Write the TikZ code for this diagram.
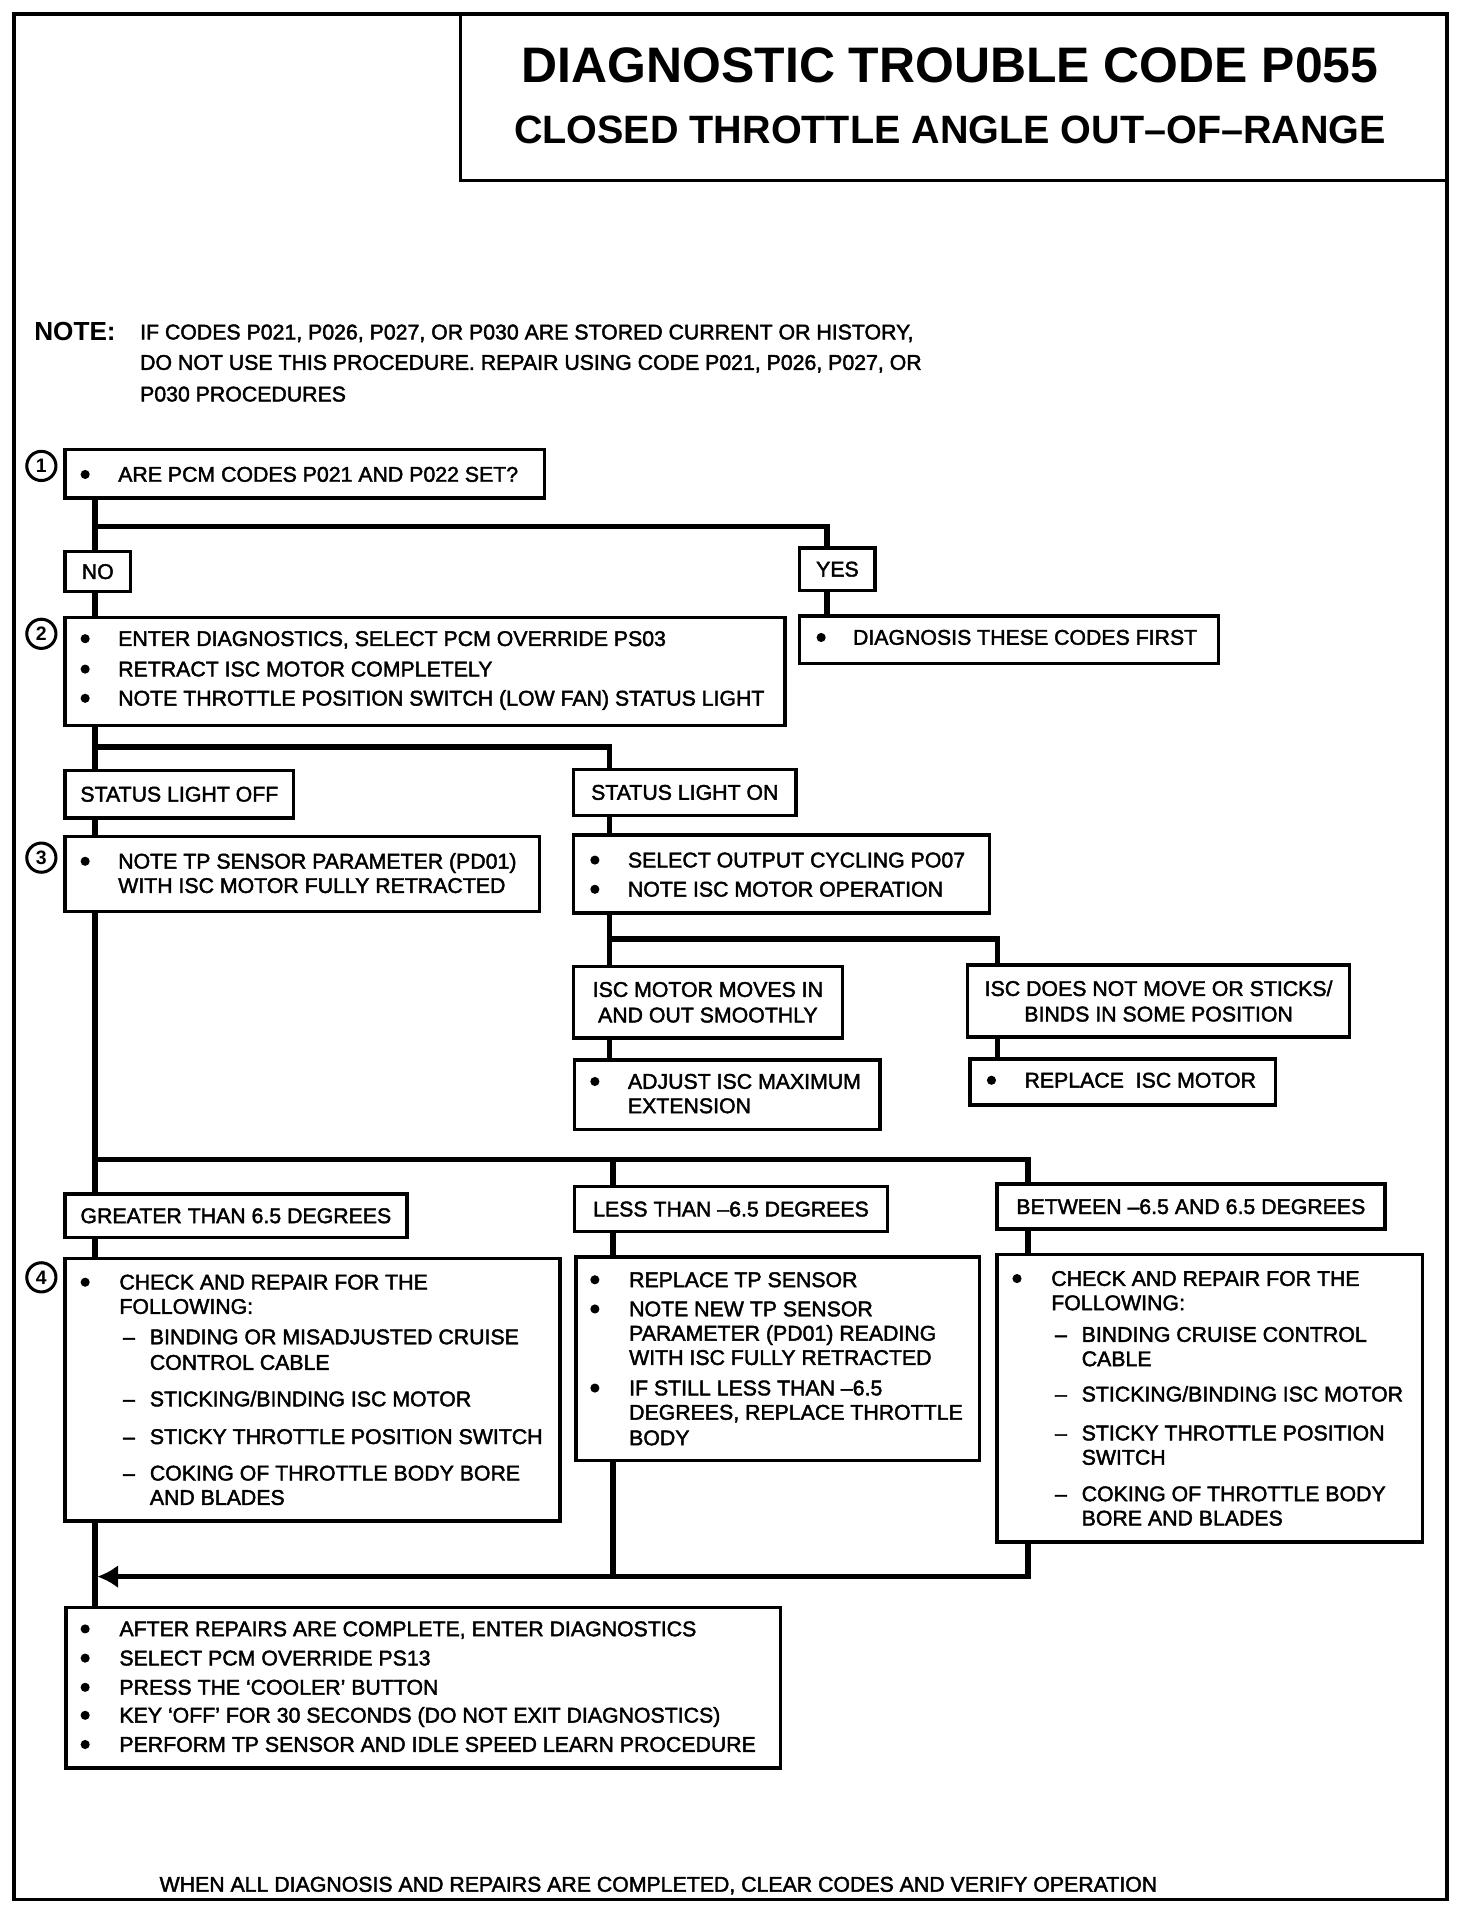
\documentclass[tikz,border=0pt]{standalone}
\usepackage{fontspec}
\setmainfont{Liberation Sans}
\newfontfamily\bodyfam{Liberation Sans}[FakeBold=2]
\usetikzlibrary{arrows.meta,calc}
\newcounter{tc}
\newcommand\bodyfont{\bodyfam\fontsize{17.5}{21}\selectfont}
\tikzset{
 box/.style={draw, line width=2.8pt, inner sep=0pt, anchor=north west, font=\bodyfont, align=center},
 conn/.style={line width=4.5pt},
 txt/.style={anchor=base west, inner sep=0pt, font=\bodyfont},
 dot/.style={circle, fill, inner sep=0pt, minimum size=7.5pt},
 num/.style={circle, draw, line width=2.5pt, minimum size=24pt, inner sep=0pt, font=\fontsize{16}{16}\selectfont\bfseries},
}
\newcommand\mybox[6]{\node[box, minimum width={#4-#2}, minimum height={#5-#3}] (#1) at (#2,#3) {#6};}
\newcommand\mytext[3]{\stepcounter{tc}\node[txt] (t\arabic{tc}) at (#1,#2+8) {#3};}
\newcommand\mybul[4]{\stepcounter{tc}\node[dot] (d\arabic{tc}) at (#1,#3+2) {};\mytext{#2}{#3}{#4}}
\begin{document}
\begin{tikzpicture}[x=1pt,y=-1pt]
\useasboundingbox (0,0) rectangle (1210,1575);
% frame and title
\node[draw, line width=3pt, anchor=north west, minimum width=1178, minimum height=1550, inner sep=0pt] (frame) at (10,10) {};
\node[draw, line width=2.8pt, anchor=north west, minimum width={1188-377}, minimum height={147-10}, inner sep=0pt] (title) at (377,10) {};
\node[inner sep=0pt, font=\fontsize{41}{45}\selectfont\bfseries] (t1a) at (781,54) {DIAGNOSTIC TROUBLE CODE P055};
\node[inner sep=0pt, font=\fontsize{32.5}{36}\selectfont\bfseries] (t2a) at (781,107) {CLOSED THROTTLE ANGLE OUT–OF–RANGE};
% note
\node[txt, font=\fontsize{21.5}{24}\selectfont\bfseries] (notehd) at (28,280) {NOTE:};
\mytext{115}{271}{IF CODES P021, P026, P027, OR P030 ARE STORED CURRENT OR HISTORY,}
\mytext{115}{296}{DO NOT USE THIS PROCEDURE. REPAIR USING CODE P021, P026, P027, OR}
\mytext{115}{322}{P030 PROCEDURES}
% step numbers
\node[num] (n1) at (34,383) {1};
\node[num] (n2) at (34,521) {2};
\node[num] (n3) at (34,705) {3};
\node[num] (n4) at (34,1050) {4};
% boxes
\mybox{b1}{52}{368}{446}{408}{}
\mybul{70}{97}{388}{ARE PCM CODES P021 AND P022 SET?}
\mybox{no}{52}{452}{106}{485}{NO}
\mybox{yes}{656}{449}{718}{484}{YES}
\mybox{b2}{52}{506}{644}{595}{}
\mybul{70}{97}{523}{ENTER DIAGNOSTICS, SELECT PCM OVERRIDE PS03}
\mybul{70}{97}{548}{RETRACT ISC MOTOR COMPLETELY}
\mybul{70}{97}{572}{NOTE THROTTLE POSITION SWITCH (LOW FAN) STATUS LIGHT}
\mybox{diag}{656}{505}{1000}{544}{}
\mybul{675}{701}{522}{DIAGNOSIS THESE CODES FIRST}
\mybox{soff}{52}{632}{240}{671}{STATUS LIGHT OFF}
\mybox{son}{470}{631}{653}{669}{STATUS LIGHT ON}
\mybox{b3}{52}{686}{442}{748}{}
\mybul{70}{97}{706}{NOTE TP SENSOR PARAMETER (PD01)}
\mytext{97}{726}{WITH ISC MOTOR FULLY RETRACTED}
\mybox{b3r}{470}{685}{812}{749}{}
\mybul{489}{516}{705}{SELECT OUTPUT CYCLING PO07}
\mybul{489}{516}{729}{NOTE ISC MOTOR OPERATION}
\mybox{smooth}{470}{793}{691}{852}{ISC MOTOR MOVES IN\\AND OUT SMOOTHLY}
\mybox{stick}{794}{792}{1108}{851}{ISC DOES NOT MOVE OR STICKS/\\BINDS IN SOME POSITION}
\mybox{adjust}{471}{870}{722}{927}{}
\mybul{489}{516}{887}{ADJUST ISC MAXIMUM}
\mytext{516}{907}{EXTENSION}
\mybox{repl}{796}{869}{1047}{907}{}
\mybul{815}{842}{886}{REPLACE\ \ ISC MOTOR}
\mybox{gt}{52}{980}{333}{1016}{GREATER THAN 6.5 DEGREES}
\mybox{lt}{471}{974}{728}{1011}{LESS THAN –6.5 DEGREES}
\mybox{bw}{818}{972}{1137}{1009}{BETWEEN –6.5 AND 6.5 DEGREES}
\mybox{b4l}{52}{1033}{459}{1249}{}
\mybul{70}{98}{1052}{CHECK AND REPAIR FOR THE}
\mytext{98}{1072}{FOLLOWING:}
\mytext{101}{1097}{–}\mytext{123}{1097}{BINDING OR MISADJUSTED CRUISE}
\mytext{123}{1118}{CONTROL CABLE}
\mytext{101}{1148}{–}\mytext{123}{1148}{STICKING/BINDING ISC MOTOR}
\mytext{101}{1179}{–}\mytext{123}{1179}{STICKY THROTTLE POSITION SWITCH}
\mytext{101}{1209}{–}\mytext{123}{1209}{COKING OF THROTTLE BODY BORE}
\mytext{123}{1229}{AND BLADES}
\mybox{b4m}{472}{1032}{804}{1199}{}
\mybul{489}{517}{1050}{REPLACE TP SENSOR}
\mybul{489}{517}{1074}{NOTE NEW TP SENSOR}
\mytext{517}{1094}{PARAMETER (PD01) READING}
\mytext{517}{1114}{WITH ISC FULLY RETRACTED}
\mybul{489}{517}{1139}{IF STILL LESS THAN –6.5}
\mytext{517}{1159}{DEGREES, REPLACE THROTTLE}
\mytext{517}{1180}{BODY}
\mybox{b4r}{818}{1030}{1168}{1266}{}
\mybul{836}{864}{1049}{CHECK AND REPAIR FOR THE}
\mytext{864}{1069}{FOLLOWING:}
\mytext{867}{1095}{–}\mytext{889}{1095}{BINDING CRUISE CONTROL}
\mytext{889}{1115}{CABLE}
\mytext{867}{1144}{–}\mytext{889}{1144}{STICKING/BINDING ISC MOTOR}
\mytext{867}{1176}{–}\mytext{889}{1176}{STICKY THROTTLE POSITION}
\mytext{889}{1196}{SWITCH}
\mytext{867}{1226}{–}\mytext{889}{1226}{COKING OF THROTTLE BODY}
\mytext{889}{1246}{BORE AND BLADES}
\mybox{bfin}{53}{1320}{640}{1452}{}
\mybul{70}{98}{1337}{AFTER REPAIRS ARE COMPLETE, ENTER DIAGNOSTICS}
\mybul{70}{98}{1361}{SELECT PCM OVERRIDE PS13}
\mybul{70}{98}{1385}{PRESS THE ‘COOLER’ BUTTON}
\mybul{70}{98}{1408}{KEY ‘OFF’ FOR 30 SECONDS (DO NOT EXIT DIAGNOSTICS)}
\mybul{70}{98}{1432}{PERFORM TP SENSOR AND IDLE SPEED LEARN PROCEDURE}
\mytext{131}{1547}{WHEN ALL DIAGNOSIS AND REPAIRS ARE COMPLETED, CLEAR CODES AND VERIFY OPERATION}
% junctions
\coordinate (j1) at (78,433);
\coordinate (j2) at (680,433);
\coordinate (j3) at (78,614);
\coordinate (j4) at (501,614);
\coordinate (j5) at (501,772);
\coordinate (j6) at (820,772);
\coordinate (j7) at (78,953);
\coordinate (j8) at (845,953);
\coordinate (j9) at (504,953);
\coordinate (j10) at (80,1296);
% connectors
\draw[conn] (b1.south -| j1) -- (no.north -| j1);
\draw[conn] (j1) -| (j2 |- yes.north);
\draw[conn] (no.south -| j1) -- (b2.north -| j1);
\draw[conn] (yes.south -| j2) -- (diag.north -| j2);
\draw[conn] (b2.south -| j1) -- (soff.north -| j1);
\draw[conn] (j3) -| (son.north -| j4);
\draw[conn] (soff.south -| j1) -- (b3.north -| j1);
\draw[conn] (son.south -| j4) -- (b3r.north -| j4);
\draw[conn] (b3r.south -| j4) -- (smooth.north -| j4);
\draw[conn] (j5) -| (stick.north -| j6);
\draw[conn] (smooth.south -| j4) -- (adjust.north -| j4);
\draw[conn] (stick.south -| j6) -- (repl.north -| j6);
\draw[conn] (b3.south -| j1) -- (gt.north -| j1);
\draw[conn] (j7) -| (bw.north -| j8);
\draw[conn] (j9) -- (lt.north -| j9);
\draw[conn] (gt.south -| j1) -- (b4l.north -| j1);
\draw[conn] (lt.south -| j9) -- (b4m.north -| j9);
\draw[conn] (bw.south -| j8) -- (b4r.north -| j8);
\draw[conn,-{Latex[length=17pt,width=19pt]}] (b4r.south -| j8) |- (j10);
\draw[conn] (b4m.south -| j9) -- (j9 |- j10);
\draw[conn] (b4l.south -| j1) -- (bfin.north -| j1);
\end{tikzpicture}
\end{document}
